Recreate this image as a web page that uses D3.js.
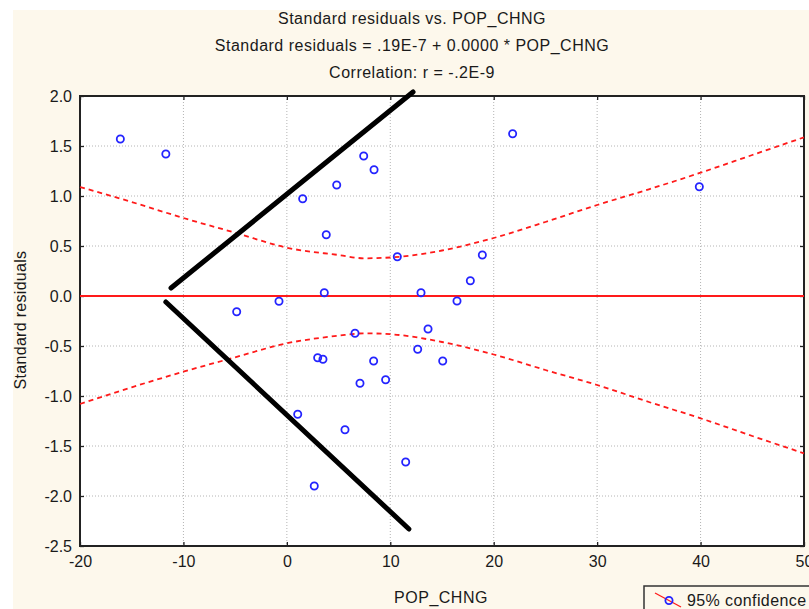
<!DOCTYPE html>
<html>
<head>
<meta charset="utf-8">
<script src="https://cdn.jsdelivr.net/npm/d3@7"></script>
<style>
  body { margin: 0; background: #fff; }
  text { font-family: Arial, "Liberation Sans", sans-serif; fill: #1a1a1a; }
</style>
</head>
<body>
<div id="chart"></div>
<script>
// observations
var popChng = [-16.1, -11.7, -4.85, -0.76, 1.53, 3.81, 3.62, 1.05, 2.65, 2.98, 3.49, 4.82,
  5.62, 6.59, 7.07, 7.43, 8.43, 8.39, 9.55, 10.68, 11.49, 12.97, 12.65, 13.65,
  15.07, 16.45, 17.74, 18.9, 21.83, 39.88]
var stdResid = [1.57, 1.42, -0.157, -0.053, 0.973, 0.613, 0.033, -1.183, -1.9, -0.617, -0.633, 1.11,
  -1.337, -0.373, -0.873, 1.40, 1.263, -0.65, -0.837, 0.393, -1.66, 0.033, -0.533, -0.33,
  -0.65, -0.05, 0.153, 0.41, 1.623, 1.093]

// 95% confidence band
var bandX = [-20, -15, -10, -5, 0, 5, 7.5, 10, 15, 20, 25, 30, 35, 40, 45, 50]
var bandUpper = [1.09, 0.94, 0.78, 0.633, 0.483, 0.41, 0.377, 0.385, 0.455, 0.58, 0.74, 0.91, 1.067, 1.233, 1.41, 1.587]
var bandLower = [-1.08, -0.913, -0.757, -0.613, -0.473, -0.397, -0.373, -0.382, -0.46, -0.585, -0.74, -0.89, -1.06, -1.223, -1.4, -1.573]

// hand drawn guide lines
var guideUp = [[-11.2, 0.08], [12.2, 2.04]]
var guideDown = [[-11.7, -0.06], [11.8, -2.33]]

var xTicks = [-20, -10, 0, 10, 20, 30, 40, 50]
var yTicks = [2.0, 1.5, 1.0, 0.5, 0.0, -0.5, -1.0, -1.5, -2.0, -2.5]

var titleLines = ['Standard residuals vs. POP_CHNG',
  'Standard residuals = .19E-7 + 0.0000 * POP_CHNG',
  'Correlation: r = -.2E-9']

var W = 809, H = 609
var pLeft = 80, pTop = 96, pRight = 804, pBottom = 546
var red = '#ff1a1a', blue = '#2424ff'

var svg = d3.select('#chart').append('svg').attr('width', W).attr('height', H)

svg.append('rect').attr('x', 13).attr('y', 10).attr('width', W - 13).attr('height', H - 10)
  .attr('fill', '#fdf8ec')

var x = d3.scaleLinear().domain([-20, 50]).range([pLeft, pRight])
var y = d3.scaleLinear().domain([-2.5, 2.0]).range([pBottom, pTop])

svg.append('rect').attr('x', pLeft).attr('y', pTop)
  .attr('width', pRight - pLeft).attr('height', pBottom - pTop).attr('fill', '#fff')

// grid
svg.append('g').selectAll('line').data(xTicks.slice(1, -1)).enter().append('line')
  .attr('x1', d => x(d)).attr('x2', d => x(d)).attr('y1', pTop).attr('y2', pBottom)
  .attr('stroke', '#b4b4b4').attr('stroke-dasharray', '1,2')
svg.append('g').selectAll('line').data(yTicks.slice(1, -1)).enter().append('line')
  .attr('y1', d => y(d)).attr('y2', d => y(d)).attr('x1', pLeft).attr('x2', pRight)
  .attr('stroke', '#b4b4b4').attr('stroke-dasharray', '1,2')

// axes with inward ticks
var xAxis = svg.append('g').attr('transform', 'translate(0,' + pBottom + ')')
  .call(d3.axisBottom(x).tickValues(xTicks).tickFormat(d => String(d))
    .tickSizeInner(-4).tickSizeOuter(0).tickPadding(10))
var yAxis = svg.append('g').attr('transform', 'translate(' + pLeft + ',0)')
  .call(d3.axisLeft(y).tickValues(yTicks).tickFormat(d => d.toFixed(1))
    .tickSizeInner(-4).tickSizeOuter(0).tickPadding(8))
svg.append('g').attr('transform', 'translate(0,' + pTop + ')')
  .call(d3.axisTop(x).tickValues(xTicks).tickSizeInner(-4).tickSizeOuter(0).tickFormat(''))
svg.append('g').attr('transform', 'translate(' + pRight + ',0)')
  .call(d3.axisRight(y).tickValues(yTicks).tickSizeInner(-4).tickSizeOuter(0).tickFormat(''))
svg.selectAll('.domain').remove()
svg.selectAll('.tick line').attr('stroke', '#222').attr('stroke-width', 1.3)
xAxis.selectAll('text').attr('font-size', 16).attr('dy', '0.71em').attr('fill', '#1a1a1a')
yAxis.selectAll('text').attr('font-size', 16).attr('fill', '#1a1a1a')

// frame
svg.append('rect').attr('x', pLeft).attr('y', pTop)
  .attr('width', pRight - pLeft).attr('height', pBottom - pTop)
  .attr('fill', 'none').attr('stroke', '#222').attr('stroke-width', 2)

// zero line
svg.append('line').attr('x1', x(-20)).attr('x2', x(50)).attr('y1', y(0)).attr('y2', y(0))
  .attr('stroke', red).attr('stroke-width', 2)

// confidence band
var band = d3.line().x(d => x(d[0])).y(d => y(d[1])).curve(d3.curveMonotoneX)
;[bandUpper, bandLower].forEach(function (vals) {
  svg.append('path').datum(bandX.map((bx, i) => [bx, vals[i]]))
    .attr('d', band).attr('fill', 'none').attr('stroke', red)
    .attr('stroke-width', 1.8).attr('stroke-dasharray', '5,4')
})

// guide lines
var guide = d3.line().x(d => x(d[0])).y(d => y(d[1]))
;[guideUp, guideDown].forEach(function (g) {
  svg.append('path').datum(g).attr('d', guide).attr('fill', 'none')
    .attr('stroke', '#000').attr('stroke-width', 5).attr('stroke-linecap', 'round')
})

// points
svg.append('g').selectAll('circle').data(popChng).enter().append('circle')
  .attr('cx', d => x(d)).attr('cy', (d, i) => y(stdResid[i])).attr('r', 3.6)
  .attr('fill', 'none').attr('stroke', blue).attr('stroke-width', 1.8)

// titles
svg.selectAll('text.title').data(titleLines).enter().append('text')
  .attr('class', 'title').attr('x', 412).attr('y', (d, i) => 24 + i * 27)
  .attr('text-anchor', 'middle').attr('font-size', 16).attr('letter-spacing', 0.5)
  .text(d => d)

svg.append('text').attr('x', 441).attr('y', 603).attr('text-anchor', 'middle')
  .attr('font-size', 16).attr('letter-spacing', 0.5).text('POP_CHNG')
svg.append('text').attr('transform', 'translate(26,320) rotate(-90)')
  .attr('text-anchor', 'middle').attr('font-size', 16).attr('letter-spacing', 0.3)
  .text('Standard residuals')

// legend
var lg = svg.append('g')
lg.append('rect').attr('x', 644).attr('y', 586).attr('width', 200).attr('height', 40)
  .attr('fill', '#fdf8ec').attr('stroke', '#333').attr('stroke-width', 1.5)
lg.append('line').attr('x1', 655).attr('y1', 593).attr('x2', 681).attr('y2', 607)
  .attr('stroke', red).attr('stroke-width', 1.3)
lg.append('circle').attr('cx', 669).attr('cy', 600.5).attr('r', 3.6)
  .attr('fill', 'none').attr('stroke', blue).attr('stroke-width', 1.8)
lg.append('text').attr('x', 687).attr('y', 606).attr('font-size', 16)
  .attr('letter-spacing', 0.4).text('95% confidence')
</script>
</body>
</html>
